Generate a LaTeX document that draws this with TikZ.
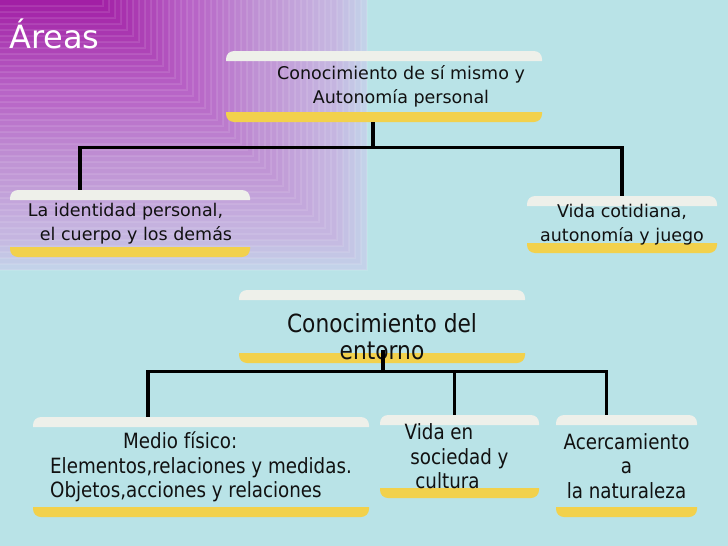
\documentclass[tikz,border=0pt]{standalone}
\usepackage{fontspec}
\setmainfont{DejaVu Sans}
\newfontfamily\narrowfont[FakeStretch=0.87]{DejaVu Sans}
\usepackage{xcolor}
\definecolor{AreaBg}{HTML}{B9E3E7}
\definecolor{AreaPurple}{HTML}{A21FA5}
\definecolor{AreaMid}{HTML}{B865C7}
\definecolor{AreaLav}{HTML}{C095D5}
\definecolor{AreaSoft}{HTML}{C5B5E0}
\definecolor{AreaPale}{HTML}{C3D2E9}
\definecolor{BandTop}{HTML}{EEF0EA}
\definecolor{BandGold}{HTML}{F2D14C}
\definecolor{InkText}{HTML}{111111}
\usetikzlibrary{calc}

\tikzset{
  area/.style 2 args={minimum width=#1, minimum height=#2, inner sep=0pt,
    text=InkText,
    path picture={
      \fill[BandTop] ($(path picture bounding box.north west)+(0,10)$)
        [rounded corners=8pt] -- (path picture bounding box.north west)
        -- (path picture bounding box.north east)
        [sharp corners] -- ($(path picture bounding box.north east)+(0,10)$) -- cycle;
      \fill[BandGold] ($(path picture bounding box.south west)+(0,-10)$)
        [rounded corners=8pt] -- (path picture bounding box.south west)
        -- (path picture bounding box.south east)
        [sharp corners] -- ($(path picture bounding box.south east)+(0,-10)$) -- cycle;
    }},
  topfont/.style={font=\fontsize{17.5}{24}\selectfont},
  lowfont/.style={font=\narrowfont\fontsize{21}{24.5}\selectfont},
  headfont/.style={font=\narrowfont\fontsize{25}{27}\selectfont},
  link/.style={draw=black, line width=3.2pt},
  stripe/.style={white, opacity=0.1, line width=1.5pt},
}

\begin{document}
\begin{tikzpicture}[x=1pt, y=-1pt]
  \useasboundingbox (0,0) rectangle (728,546);
  \fill[AreaBg] (0,0) rectangle (728,546);

  %% purple corner, nested bands
  \foreach \s in {270,264,...,240}{
    \pgfmathsetmacro{\mix}{(270-\s)/30*100}
    \fill[AreaSoft!\mix!AreaPale] (0,0) rectangle (97+\s,\s);
    \draw[stripe] (0,\s) -- (97+\s,\s) -- (97+\s,0);
  }
  \foreach \s in {234,228,...,174}{
    \pgfmathsetmacro{\mix}{(234-\s)/60*100}
    \fill[AreaLav!\mix!AreaSoft] (0,0) rectangle (97+\s,\s);
    \draw[stripe] (0,\s) -- (97+\s,\s) -- (97+\s,0);
  }
  \foreach \s in {168,162,...,102}{
    \pgfmathsetmacro{\mix}{(168-\s)/66*100}
    \fill[AreaMid!\mix!AreaLav] (0,0) rectangle (97+\s,\s);
    \draw[stripe] (0,\s) -- (97+\s,\s) -- (97+\s,0);
  }
  \foreach \s in {96,90,...,6}{
    \pgfmathsetmacro{\mix}{(96-\s)/90*100}
    \fill[AreaPurple!\mix!AreaMid] (0,0) rectangle (97+\s,\s);
    \draw[stripe] (0,\s) -- (97+\s,\s) -- (97+\s,0);
  }

  %% title
  \node[anchor=base west, inner sep=0pt, text=white,
        font=\fontsize{32}{36}\selectfont] (title) at (9,48) {Áreas};

  %% first tree
  \node[area={316pt}{71pt}, topfont, align=center] (self) at (384,86.5)
    {\hspace*{34pt}Conocimiento de sí mismo y\\\hspace*{34pt}Autonomía personal};
  \node[area={240pt}{67pt}, topfont, align=left] (ident) at (130,223.5)
    {La identidad personal,\\\hspace*{12pt}el cuerpo y los demás};
  \node[area={190pt}{57pt}, topfont, align=center] (vida) at (622,224.5)
    {Vida cotidiana,\\autonomía y juego};

  \coordinate (jSelf) at ($(self.south)+(-11,25)$);
  \coordinate (identTop) at ($(ident.north)+(-50,0)$);
  \draw[link] ($(self.south)+(-11,0)$) -- (jSelf);
  \draw[link] (identTop) |- (jSelf) -| (vida.north);

  %% second tree
  \node[area={286pt}{73pt}, headfont, align=center] (entorno) at (382,326.5)
    {\rule{0pt}{39pt}Conocimiento del\\entorno};
  \node[area={336pt}{100pt}, lowfont, align=left] (medio) at (201,467)
    {\hspace*{73pt}Medio físico:\\Elementos,relaciones y medidas.\\Objetos,acciones y relaciones};
  \node[area={159pt}{83pt}, lowfont, align=center] (socied) at (459.5,456.5)
    {Vida en\hspace*{41pt}\\sociedad y\hspace*{23pt}\\cultura\hspace*{24pt}};
  \node[area={141pt}{102pt}, lowfont, align=center] (natur) at (626.5,466)
    {Acercamiento\\a\\la naturaleza};

  \coordinate (jEnt) at ($(entorno.south)+(1,8)$);
  \coordinate (medioTop) at ($(medio.north)+(-53,0)$);
  \coordinate (sociedTop) at ($(socied.north)+(-5,0)$);
  \coordinate (naturTop) at ($(natur.north)+(-20,0)$);
  \draw[link] ($(entorno.south)+(1,-13)$) -- (jEnt);
  \draw[link] (medioTop) |- (jEnt) -| (naturTop);
  \draw[link] (sociedTop) -- (sociedTop |- jEnt);
\end{tikzpicture}
\end{document}
